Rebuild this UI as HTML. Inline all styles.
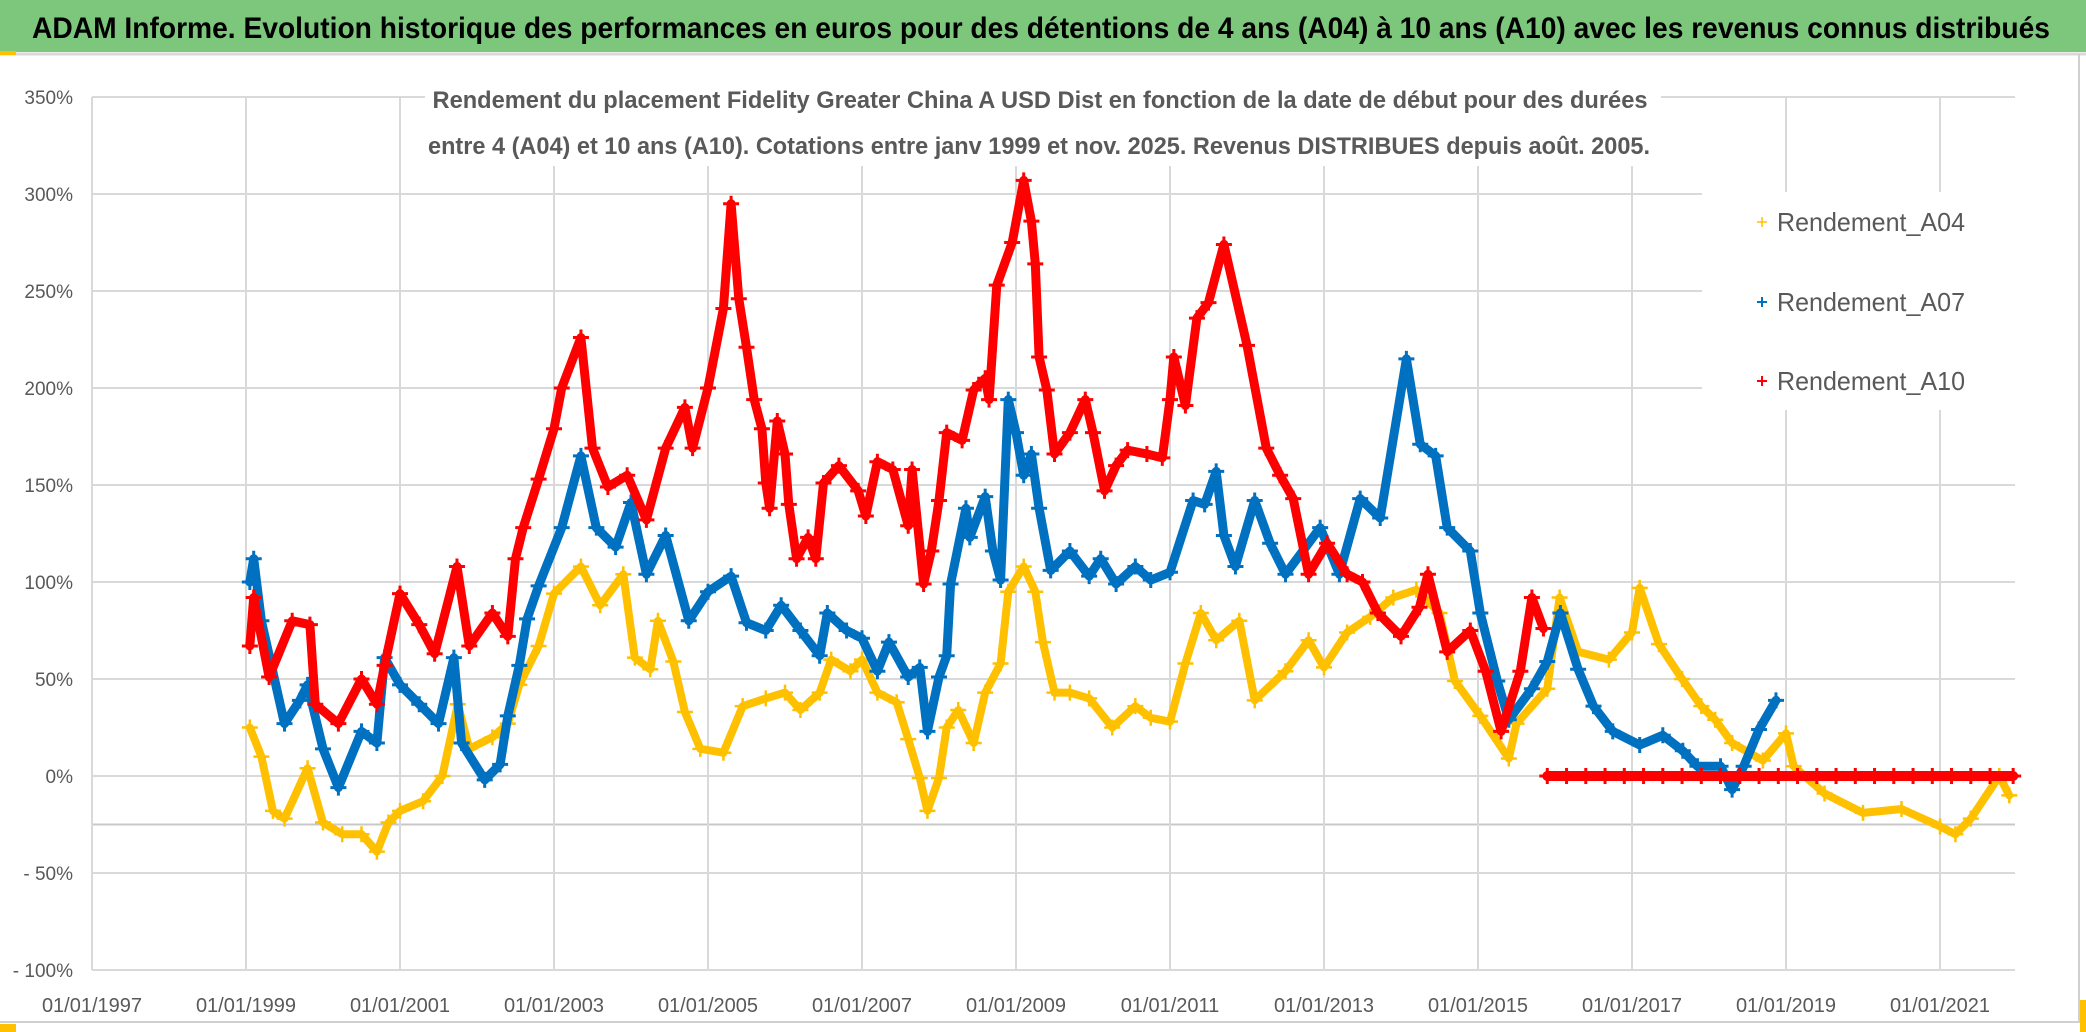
<!DOCTYPE html>
<html><head><meta charset="utf-8"><style>
html,body{margin:0;padding:0;background:#fff;}
svg{display:block;font-family:"Liberation Sans",sans-serif;}
</style></head><body>
<svg id="chart" width="2086" height="1032" viewBox="0 0 2086 1032" xmlns="http://www.w3.org/2000/svg">
<rect x="0" y="0" width="2086" height="1032" fill="#fff"/>
<rect x="0" y="0" width="2086" height="52" fill="#7DC77D"/>
<line x1="0" y1="54" x2="2086" y2="54" stroke="#d9d9d9" stroke-width="3"/>
<rect x="0" y="51" width="16" height="4" fill="#FFC000"/>
<text x="32" y="38" font-size="30" font-weight="bold" fill="#000" textLength="2018" lengthAdjust="spacingAndGlyphs">ADAM Informe. Evolution historique des performances en euros pour des détentions de 4 ans (A04) à 10 ans (A10) avec les revenus connus distribués</text>
<g id="grid"></g>
<g id="ylabels"></g>
<g id="xlabels"></g>
<g id="series"></g>
<rect x="425" y="74" width="1236" height="92" fill="#fff"/>
<text x="1040" y="108" font-size="24" font-weight="bold" fill="#595959" text-anchor="middle" textLength="1215" lengthAdjust="spacingAndGlyphs">Rendement du placement Fidelity Greater China A USD Dist en fonction de la date de début pour des durées</text>
<text x="1039" y="154" font-size="24" font-weight="bold" fill="#595959" text-anchor="middle" textLength="1222" lengthAdjust="spacingAndGlyphs">entre 4 (A04) et 10 ans (A10). Cotations entre janv 1999 et nov. 2025. Revenus DISTRIBUES depuis août. 2005.</text>
<g>
<rect x="1702" y="192" width="313" height="218" fill="#fff"/>
<g>
<path d="M1757 222h10M1762 217v10" stroke="#FFC000" stroke-width="1.5"/>
<text x="1777" y="231" font-size="26" fill="#595959" textLength="188" lengthAdjust="spacingAndGlyphs">Rendement_A04</text></g>
<g>
<path d="M1757 302h10M1762 297v10" stroke="#0070C0" stroke-width="2"/>
<text x="1777" y="311" font-size="26" fill="#595959" textLength="188" lengthAdjust="spacingAndGlyphs">Rendement_A07</text></g>
<g>
<path d="M1757 381h10M1762 376v10" stroke="#FF0000" stroke-width="2"/>
<text x="1777" y="390" font-size="26" fill="#595959" textLength="188" lengthAdjust="spacingAndGlyphs">Rendement_A10</text></g>
</g>
<line x1="2079" y1="54" x2="2079" y2="1022" stroke="#d0d0d0" stroke-width="2"/>
<line x1="0" y1="1022" x2="2080" y2="1022" stroke="#d0d0d0" stroke-width="2"/>
<rect x="0" y="1024" width="16" height="8" fill="#FFC000"/>
<rect x="2080" y="1000" width="6" height="32" fill="#FFC000"/>
</svg>
<script>
const yTicks = [350, 300, 250, 200, 150, 100, 50, 0, -50, -100];
const yTickLabels = ["350%", "300%", "250%", "200%", "150%", "100%", "50%", "0%", "- 50%", "- 100%"];
const xTickYears = [1997, 1999, 2001, 2003, 2005, 2007, 2009, 2011, 2013, 2015, 2017, 2019, 2021];
const xTickLabels = ["01/01/1997","01/01/1999","01/01/2001","01/01/2003","01/01/2005","01/01/2007","01/01/2009","01/01/2011","01/01/2013","01/01/2015","01/01/2017","01/01/2019","01/01/2021"];

const a04Dates = [1999.05,1999.2,1999.35,1999.5,1999.8,2000.0,2000.25,2000.5,2000.7,2000.85,2001.0,2001.3,2001.55,2001.75,2001.9,2002.2,2002.4,2002.55,2002.8,2003.0,2003.35,2003.6,2003.9,2004.05,2004.25,2004.35,2004.55,2004.7,2004.9,2005.2,2005.45,2005.75,2006.0,2006.2,2006.45,2006.6,2006.85,2007.0,2007.2,2007.45,2007.6,2007.75,2007.85,2008.0,2008.1,2008.25,2008.45,2008.6,2008.8,2008.9,2009.1,2009.25,2009.35,2009.5,2009.7,2009.95,2010.25,2010.55,2010.75,2011.0,2011.2,2011.4,2011.6,2011.9,2012.1,2012.5,2012.8,2013.0,2013.3,2013.6,2013.9,2014.2,2014.5,2014.7,2015.03,2015.4,2015.5,2015.9,2016.06,2016.3,2016.7,2017.0,2017.1,2017.35,2017.65,2017.9,2018.08,2018.3,2018.7,2019.0,2019.1,2019.5,2020.0,2020.5,2021.0,2021.2,2021.4,2021.77,2021.9];
const a04Values = [25,10,-18,-22,4,-24,-30,-30,-39,-24,-18,-13,0,37,14,20,27,47,67,94,108,88,104,61,55,80,59,33,14,12,36,40,43,34,43,60,54,60,43,38,19,-1,-18,-1,25,34,17,43,58,95,108,95,69,43,43,40,25,36,30,28,58,84,70,80,39,54,70,56,74,82,92,96,84,49,31,9,27,45,92,64,60,74,97,68,50,36,29,17,8,22,5,-9,-19,-17,-26,-30,-22,0,-10];

const a07Dates = [1999.05,1999.1,1999.2,1999.5,1999.7,1999.8,2000.0,2000.2,2000.5,2000.7,2000.8,2001.0,2001.25,2001.5,2001.7,2001.8,2002.1,2002.3,2002.4,2002.55,2002.65,2002.8,2003.1,2003.35,2003.55,2003.8,2004.0,2004.2,2004.45,2004.75,2005.0,2005.3,2005.5,2005.75,2005.95,2006.2,2006.45,2006.55,2006.8,2007.0,2007.2,2007.35,2007.6,2007.75,2007.85,2008.0,2008.1,2008.15,2008.35,2008.4,2008.6,2008.7,2008.8,2008.9,2009.0,2009.1,2009.2,2009.3,2009.45,2009.7,2009.95,2010.1,2010.3,2010.55,2010.75,2011.0,2011.3,2011.45,2011.6,2011.7,2011.85,2012.1,2012.3,2012.5,2012.95,2013.2,2013.47,2013.73,2014.07,2014.25,2014.45,2014.6,2014.9,2015.03,2015.25,2015.4,2015.7,2015.9,2016.07,2016.3,2016.5,2016.75,2017.1,2017.4,2017.66,2017.85,2018.15,2018.3,2018.45,2018.65,2018.87];
const a07Values = [100,112,80,27,39,47,14,-6,23,17,61,47,37,27,61,17,-2,6,31,57,81,98,128,165,128,118,141,104,124,80,95,103,79,75,88,75,62,84,75,71,54,69,51,56,23,51,62,99,138,123,144,116,101,194,177,155,166,138,106,116,103,112,99,108,101,105,142,140,157,124,108,142,120,104,128,104,143,133,215,171,165,128,116,84,49,29,45,59,84,55,36,23,16,21,13,5,5,-7,5,24,39];

const a10Dates = [1999.05,1999.1,1999.3,1999.6,1999.83,1999.9,2000.2,2000.5,2000.7,2000.8,2001.0,2001.25,2001.45,2001.74,2001.9,2002.2,2002.4,2002.5,2002.6,2002.8,2003.0,2003.1,2003.35,2003.5,2003.7,2003.95,2004.2,2004.45,2004.7,2004.8,2005.0,2005.2,2005.3,2005.4,2005.5,2005.6,2005.7,2005.75,2005.8,2005.9,2006.0,2006.05,2006.15,2006.3,2006.4,2006.5,2006.7,2006.95,2007.05,2007.2,2007.4,2007.6,2007.65,2007.8,2007.9,2008.0,2008.1,2008.3,2008.45,2008.6,2008.65,2008.75,2008.95,2009.1,2009.2,2009.25,2009.3,2009.4,2009.5,2009.7,2009.9,2010.0,2010.15,2010.3,2010.45,2010.7,2010.9,2011.0,2011.05,2011.2,2011.35,2011.5,2011.7,2012.0,2012.25,2012.43,2012.6,2012.8,2013.04,2013.3,2013.5,2013.7,2014.0,2014.24,2014.35,2014.6,2014.9,2015.1,2015.3,2015.55,2015.7,2015.85];
const a10Values = [67,92,51,80,78,37,27,50,37,57,94,78,63,108,67,84,72,112,128,153,179,200,226,169,149,155,132,169,190,169,200,241,295,246,221,194,179,151,138,183,166,140,112,123,112,151,160,147,134,162,158,129,158,99,116,142,177,173,199,205,194,253,275,307,286,264,216,199,166,177,194,177,147,160,168,166,164,194,216,191,236,244,274,222,169,155,143,104,120,104,100,84,72,87,104,64,75,54,23,54,92,76];
const a10FlatDates = [2015.9,2016.15,2016.4,2016.65,2016.9,2017.15,2017.4,2017.65,2017.9,2018.15,2018.4,2018.65,2018.9,2019.15,2019.4,2019.65,2019.9,2020.15,2020.4,2020.65,2020.9,2021.15,2021.4,2021.65,2021.95];
const a10FlatValues = [0,0,0,0,0,0,0,0,0,0,0,0,0,0,0,0,0,0,0,0,0,0,0,0,0];

const NS = "http://www.w3.org/2000/svg";
const X0 = 92, PX_PER_YEAR = 77, XMAX = 2015;
const Y0 = 776, PX_PER_PCT = 97/50;
function xScale(year){ return X0 + (year - 1997) * PX_PER_YEAR; }
function yScale(v){ return Y0 - v * PX_PER_PCT; }
function mk(tag, attrs, parent){ const e = document.createElementNS(NS, tag); for (const k in attrs) e.setAttribute(k, attrs[k]); parent.appendChild(e); return e; }

const grid = document.getElementById('grid');
const yl = document.getElementById('ylabels');
const xl = document.getElementById('xlabels');
yTicks.forEach((t, i) => {
  const ln = mk('line', {x1: X0, x2: XMAX, y1: yScale(t), y2: yScale(t), stroke: '#d9d9d9', 'stroke-width': 2}, grid);
  
  
  const tx = mk('text', {x: 73, y: yScale(t) + 7, 'font-size': 19, fill: '#595959', 'text-anchor': 'end'}, yl);
  tx.textContent = yTickLabels[i];
  
  
});
const ref = mk('line', {x1: X0, x2: XMAX, y1: yScale(-25), y2: yScale(-25), stroke: '#c8c8c8', 'stroke-width': 2}, grid);


xTickYears.forEach((yr, i) => {
  const ln = mk('line', {x1: xScale(yr), x2: xScale(yr), y1: yScale(350), y2: yScale(-100), stroke: '#d9d9d9', 'stroke-width': 2}, grid);
  
  
  const tx = mk('text', {x: xScale(yr), y: 1012, 'font-size': 20, fill: '#595959', 'text-anchor': 'middle'}, xl);
  tx.textContent = xTickLabels[i];
  
  
});

const series = document.getElementById('series');
function drawSeries(dates, values, color, lw, mw, name){
  const g = mk('g', {}, series);
  
  
  const pts = dates.map((d, i) => xScale(d).toFixed(1) + ',' + yScale(values[i]).toFixed(1)).join(' ');
  const pl = mk('polyline', {points: pts, fill: 'none', stroke: color, 'stroke-width': lw, 'stroke-linejoin': 'round', 'stroke-linecap': 'round'}, g);
  
  
  dates.forEach((d, i) => {
    const x = xScale(d), y = yScale(values[i]);
    const p = mk('path', {d: `M${x-8} ${y}h16M${x} ${y-8}v16`, stroke: color, 'stroke-width': mw}, g);
    
    
  });
}
drawSeries(a04Dates, a04Values, '#FFC000', 8, 2.5, 'series-a04');
drawSeries(a07Dates, a07Values, '#0070C0', 9, 3, 'series-a07');
drawSeries(a10Dates, a10Values, '#FF0000', 9, 3, 'series-a10');
drawSeries(a10FlatDates, a10FlatValues, '#FF0000', 10, 3, 'series-a10-flat');
</script>
</body></html>
